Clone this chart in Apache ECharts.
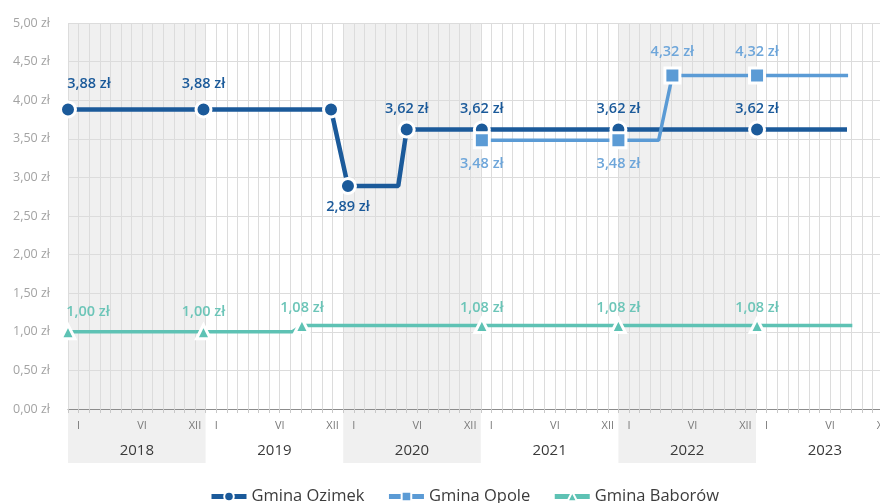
<!DOCTYPE html>
<html>
<head>
<meta charset="utf-8">
<script src="https://cdn.jsdelivr.net/npm/echarts@6/dist/echarts.min.js"></script>
<style>
  html, body { margin: 0; padding: 0; background: #fff; }
  #chart { width: 880px; height: 503px; }
</style>
</head>
<body>
<div id="chart"></div>
<script>
// Time axis: each year occupies 13 slots on the x scale.
const SLOTS_PER_YEAR = 13;
const years = [2018, 2019, 2020, 2021, 2022, 2023];
const shadedYears = [2018, 2020, 2022];
const monthNames = ['I', 'VI', 'XII'];
const monthSlots = [1, 7, 12];

// Water price per m3 (zł), points in slot units along the time axis.
const ozimekX = [0, 12.8, 24.85, 26.45, 31.2, 32, 39.1, 52, 65.1, 73.6];
const ozimekY = [3.88, 3.88, 3.88, 2.89, 2.89, 3.62, 3.62, 3.62, 3.62, 3.62];
const ozimekMarked = [1, 1, 1, 1, 0, 1, 1, 1, 1, 0];
const ozimekLabelled = [1, 1, 0, 1, 0, 1, 1, 1, 1, 0];

const opoleX = [39.1, 52, 55.8, 57.1, 65.1, 73.7];
const opoleY = [3.48, 3.48, 3.48, 4.32, 4.32, 4.32];
const opoleMarked = [1, 1, 0, 1, 1, 0];
const opoleLabelled = [1, 1, 0, 1, 1, 0];

const baborowX = [0, 12.8, 21.2, 22.1, 39.1, 52, 65.1, 74.1];
const baborowY = [1.00, 1.00, 1.00, 1.08, 1.08, 1.08, 1.08, 1.08];
const baborowMarked = [1, 1, 0, 1, 1, 1, 1, 0];
const baborowLabelled = [1, 1, 0, 1, 1, 1, 1, 0];

const X_MAX = 78;
const PLOT_LEFT = 68;
const PLOT_WIDTH = 825.6;   // runs past the right edge of the canvas
const FONT = '"Open Sans", "DejaVu Sans", sans-serif';

const zl = v => v.toFixed(2).replace('.', ',') + ' zł';

function buildData(xs, ys, marked, labelled, placeLabel) {
  return xs.map((x, i) => {
    const item = { value: [x, ys[i]] };
    if (!marked[i]) item.symbol = 'none';
    if (labelled[i]) {
      item.label = Object.assign({ show: true }, placeLabel(x, ys[i]));
    }
    return item;
  });
}

function lineSeries(name, data, color, labelColor, symbol, size, width) {
  return {
    name: name,
    type: 'line',
    xAxisIndex: 0,
    yAxisIndex: 0,
    data: data,
    symbol: symbol,
    symbolSize: size,
    lineStyle: { color: color, width: width },
    itemStyle: { color: color, borderColor: '#ffffff', borderWidth: 3 },
    label: {
      show: false,
      color: labelColor,
      fontFamily: FONT,
      fontSize: 14.5,
      fontWeight: 600,
      formatter: p => zl(p.value[1])
    },
    emphasis: { disabled: true },
    z: 3
  };
}

const bandAreas = shadedYears.map(y => {
  const start = (y - years[0]) * SLOTS_PER_YEAR;
  return [{ xAxis: start }, { xAxis: start + SLOTS_PER_YEAR }];
});

// Labels at the very first point are nudged right so they clear the axis labels.
const ozimekData = buildData(ozimekX, ozimekY, ozimekMarked, ozimekLabelled, (x, v) => ({
  position: v < 3 ? 'bottom' : 'top',
  distance: v > 3.8 ? 9 : 4,
  offset: x === 0 ? [21, 0] : [0, 0]
}));
const opoleData = buildData(opoleX, opoleY, opoleMarked, opoleLabelled, (x, v) => ({
  position: v < 4 ? 'bottom' : 'top',
  distance: 7
}));
const baborowData = buildData(baborowX, baborowY, baborowMarked, baborowLabelled, (x, v) => ({
  position: 'top',
  distance: v < 1.05 ? 4 : 2,
  offset: x === 0 ? [20, 0] : [0, 0]
}));

const chart = echarts.init(document.getElementById('chart'), null, { renderer: 'canvas' });

chart.setOption({
  animation: false,
  backgroundColor: '#ffffff',
  textStyle: { fontFamily: FONT },
  grid: [
    { left: PLOT_LEFT, width: PLOT_WIDTH, top: 23, height: 386, containLabel: false, outerBoundsMode: 'none' },
    { left: PLOT_LEFT, width: PLOT_WIDTH, top: 409, height: 54, containLabel: false, outerBoundsMode: 'none' }
  ],
  xAxis: [
    {
      gridIndex: 0,
      type: 'value',
      min: 0,
      max: X_MAX,
      interval: 1,
      axisLine: { show: true, lineStyle: { color: '#8c8c8c', width: 1 } },
      axisTick: { show: true, length: 4, lineStyle: { color: '#c8c8c8' } },
      splitLine: { show: true, lineStyle: { color: '#dcdcdc', width: 1 } },
      axisLabel: {
        margin: 11,
        fontSize: 11,
        color: '#7a7a7a',
        fontFamily: FONT,
        showMinLabel: true,
        showMaxLabel: true,
        formatter: v => {
          const k = monthSlots.indexOf(Math.round(v) % SLOTS_PER_YEAR);
          return k >= 0 ? monthNames[k] : '';
        }
      }
    },
    {
      gridIndex: 1,
      type: 'value',
      min: 0,
      max: X_MAX,
      interval: 0.5,
      axisLine: { show: false },
      axisTick: { show: false },
      splitLine: { show: false },
      axisLabel: {
        inside: true,
        margin: 5,
        fontSize: 15,
        color: '#3a3a3a',
        fontFamily: FONT,
        formatter: v => {
          if (v % SLOTS_PER_YEAR !== SLOTS_PER_YEAR / 2) return '';
          const idx = Math.floor(v / SLOTS_PER_YEAR);
          return idx < years.length ? String(years[idx]) : '';
        }
      }
    }
  ],
  yAxis: [
    {
      gridIndex: 0,
      type: 'value',
      min: 0,
      max: 5,
      interval: 0.5,
      axisLine: { show: false },
      axisTick: { show: false },
      splitLine: { show: true, lineStyle: { color: '#dcdcdc', width: 1 } },
      axisLabel: {
        margin: 18,
        fontSize: 12.5,
        color: '#a3a3a3',
        fontFamily: FONT,
        formatter: v => zl(v)
      }
    },
    { gridIndex: 1, type: 'value', min: 0, max: 1, show: false }
  ],
  legend: {
    left: 204,
    top: 483,
    itemWidth: 35,
    itemHeight: 12,
    itemGap: 22,
    lineStyle: { width: 5 },
    textStyle: { fontSize: 16.5, color: '#3c3c3c', fontFamily: FONT },
    data: ['Gmina Ozimek', 'Gmina Opole', 'Gmina Baborów']
  },
  series: [
    {
      type: 'line',
      xAxisIndex: 0,
      yAxisIndex: 0,
      data: [],
      silent: true,
      markArea: { silent: true, z: -1, itemStyle: { color: '#f0f0f0' }, data: bandAreas }
    },
    {
      type: 'line',
      xAxisIndex: 1,
      yAxisIndex: 1,
      data: [],
      silent: true,
      markArea: { silent: true, z: -1, itemStyle: { color: '#f0f0f0' }, data: bandAreas }
    },
    lineSeries('Gmina Ozimek', ozimekData, '#1b5a9a', '#1b5a9a', 'circle', 15, 4.5),
    lineSeries('Gmina Opole', opoleData, '#5b9bd5', '#6ea6da', 'rect', 15, 3.5),
    lineSeries('Gmina Baborów', baborowData, '#5ec2b4', '#6cc5b8', 'triangle', 14, 3.5)
  ]
});
</script>
</body>
</html>
